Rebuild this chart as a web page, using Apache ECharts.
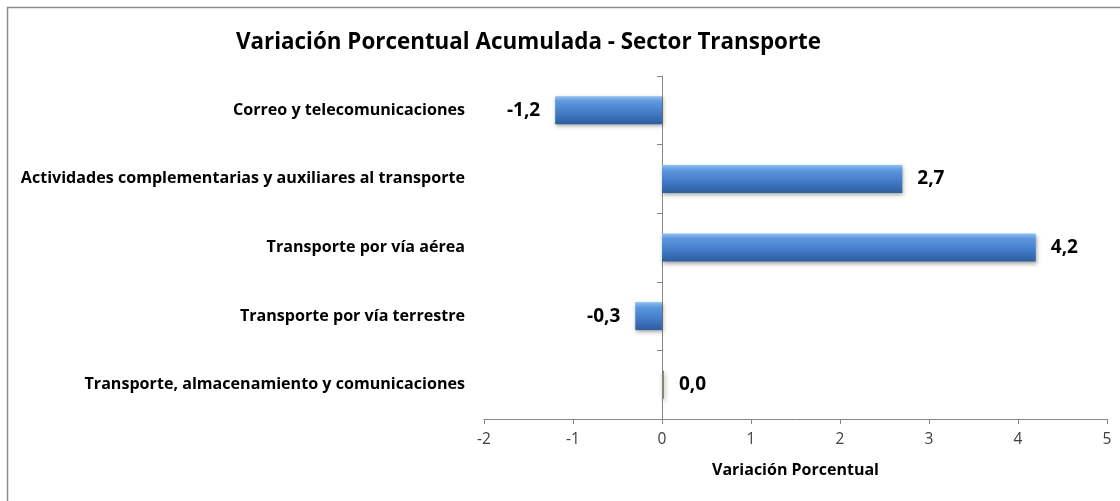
<!DOCTYPE html>
<html>
<head>
<meta charset="utf-8">
<script src="https://cdn.jsdelivr.net/npm/echarts@6/dist/echarts.min.js"></script>
<style>
  html, body { margin: 0; padding: 0; background: #fff; }
  #chart { width: 1120px; height: 501px; }
</style>
</head>
<body>
<div id="chart"></div>
<script>
// categorías (de abajo hacia arriba, como en Excel)
const categorias = [
  'Transporte, almacenamiento y comunicaciones',
  'Transporte por vía terrestre',
  'Transporte por vía aérea',
  'Actividades complementarias y auxiliares al transporte',
  'Correo y telecomunicaciones'
];
const variacion = [0.0, -0.3, 4.2, 2.7, -1.2];
const ejeMin = -2;
const ejeMax = 5;

const fmt = v => v.toFixed(1).replace('.', ',');
const font = '"Open Sans", "Noto Sans", sans-serif';

const barGradient = new echarts.graphic.LinearGradient(0, 0, 0, 1, [
  { offset: 0, color: '#90c0f2' },
  { offset: 0.18, color: '#5e98de' },
  { offset: 0.6, color: '#427bc7' },
  { offset: 1, color: '#2d5d9e' }
]);

const chart = echarts.init(document.getElementById('chart'));

const datos = variacion.map(v => ({
  value: v,
  itemStyle: v === 0 ? { color: '#7d8a78' } : undefined,
  label: { position: v < 0 ? 'left' : 'right' }
}));

chart.setOption({
  backgroundColor: '#fff',
  animation: false,
  title: {
    text: 'Variación Porcentual Acumulada - Sector Transporte',
    left: 231,
    top: 27,
    textStyle: { fontFamily: font, fontSize: 22.4, fontWeight: 'bold', color: '#000' }
  },
  graphic: [{
    type: 'rect',
    shape: { x: 7.5, y: 7.5, width: 1130, height: 520 },
    style: { fill: 'none', stroke: '#8c8c8c', lineWidth: 1.5 },
    silent: true
  }],
  grid: { left: 484, right: 13, top: 76, bottom: 82 },
  xAxis: {
    type: 'value',
    min: ejeMin,
    max: ejeMax,
    interval: 1,
    splitLine: { show: false },
    axisLine: { show: true, lineStyle: { color: '#868686' } },
    axisTick: { show: true, length: 5, lineStyle: { color: '#868686' } },
    axisLabel: { fontFamily: font, fontSize: 15.5, color: '#404040', margin: 13 },
    name: 'Variación Porcentual',
    nameLocation: 'middle',
    nameGap: 43,
    nameTextStyle: { fontFamily: font, fontSize: 16, fontWeight: 'bold', color: '#000' }
  },
  yAxis: [{
    type: 'category',
    data: categorias,
    axisLine: { show: false, onZero: false },
    axisTick: { show: false },
    axisLabel: { fontFamily: font, fontSize: 16.1, fontWeight: 'bold', color: '#000', margin: 19 }
  }, {
    type: 'category',
    data: categorias,
    position: 'left',
    axisLine: { show: true, onZero: true, lineStyle: { color: '#868686' } },
    axisTick: { show: true, length: 5, lineStyle: { color: '#868686' } },
    axisLabel: { show: false }
  }],
  series: [{
    type: 'bar',
    yAxisIndex: 0,
    data: datos,
    barWidth: 28,
    barMinHeight: 2,
    itemStyle: {
      color: barGradient,
      shadowColor: 'rgba(0,0,0,0.35)',
      shadowBlur: 4,
      shadowOffsetX: 1,
      shadowOffsetY: 2
    },
    label: {
      show: true,
      distance: 15,
      formatter: p => fmt(p.value),
      fontFamily: font,
      fontSize: 19,
      fontWeight: 'bold',
      color: '#000'
    }
  }]
});
</script>
</body>
</html>
